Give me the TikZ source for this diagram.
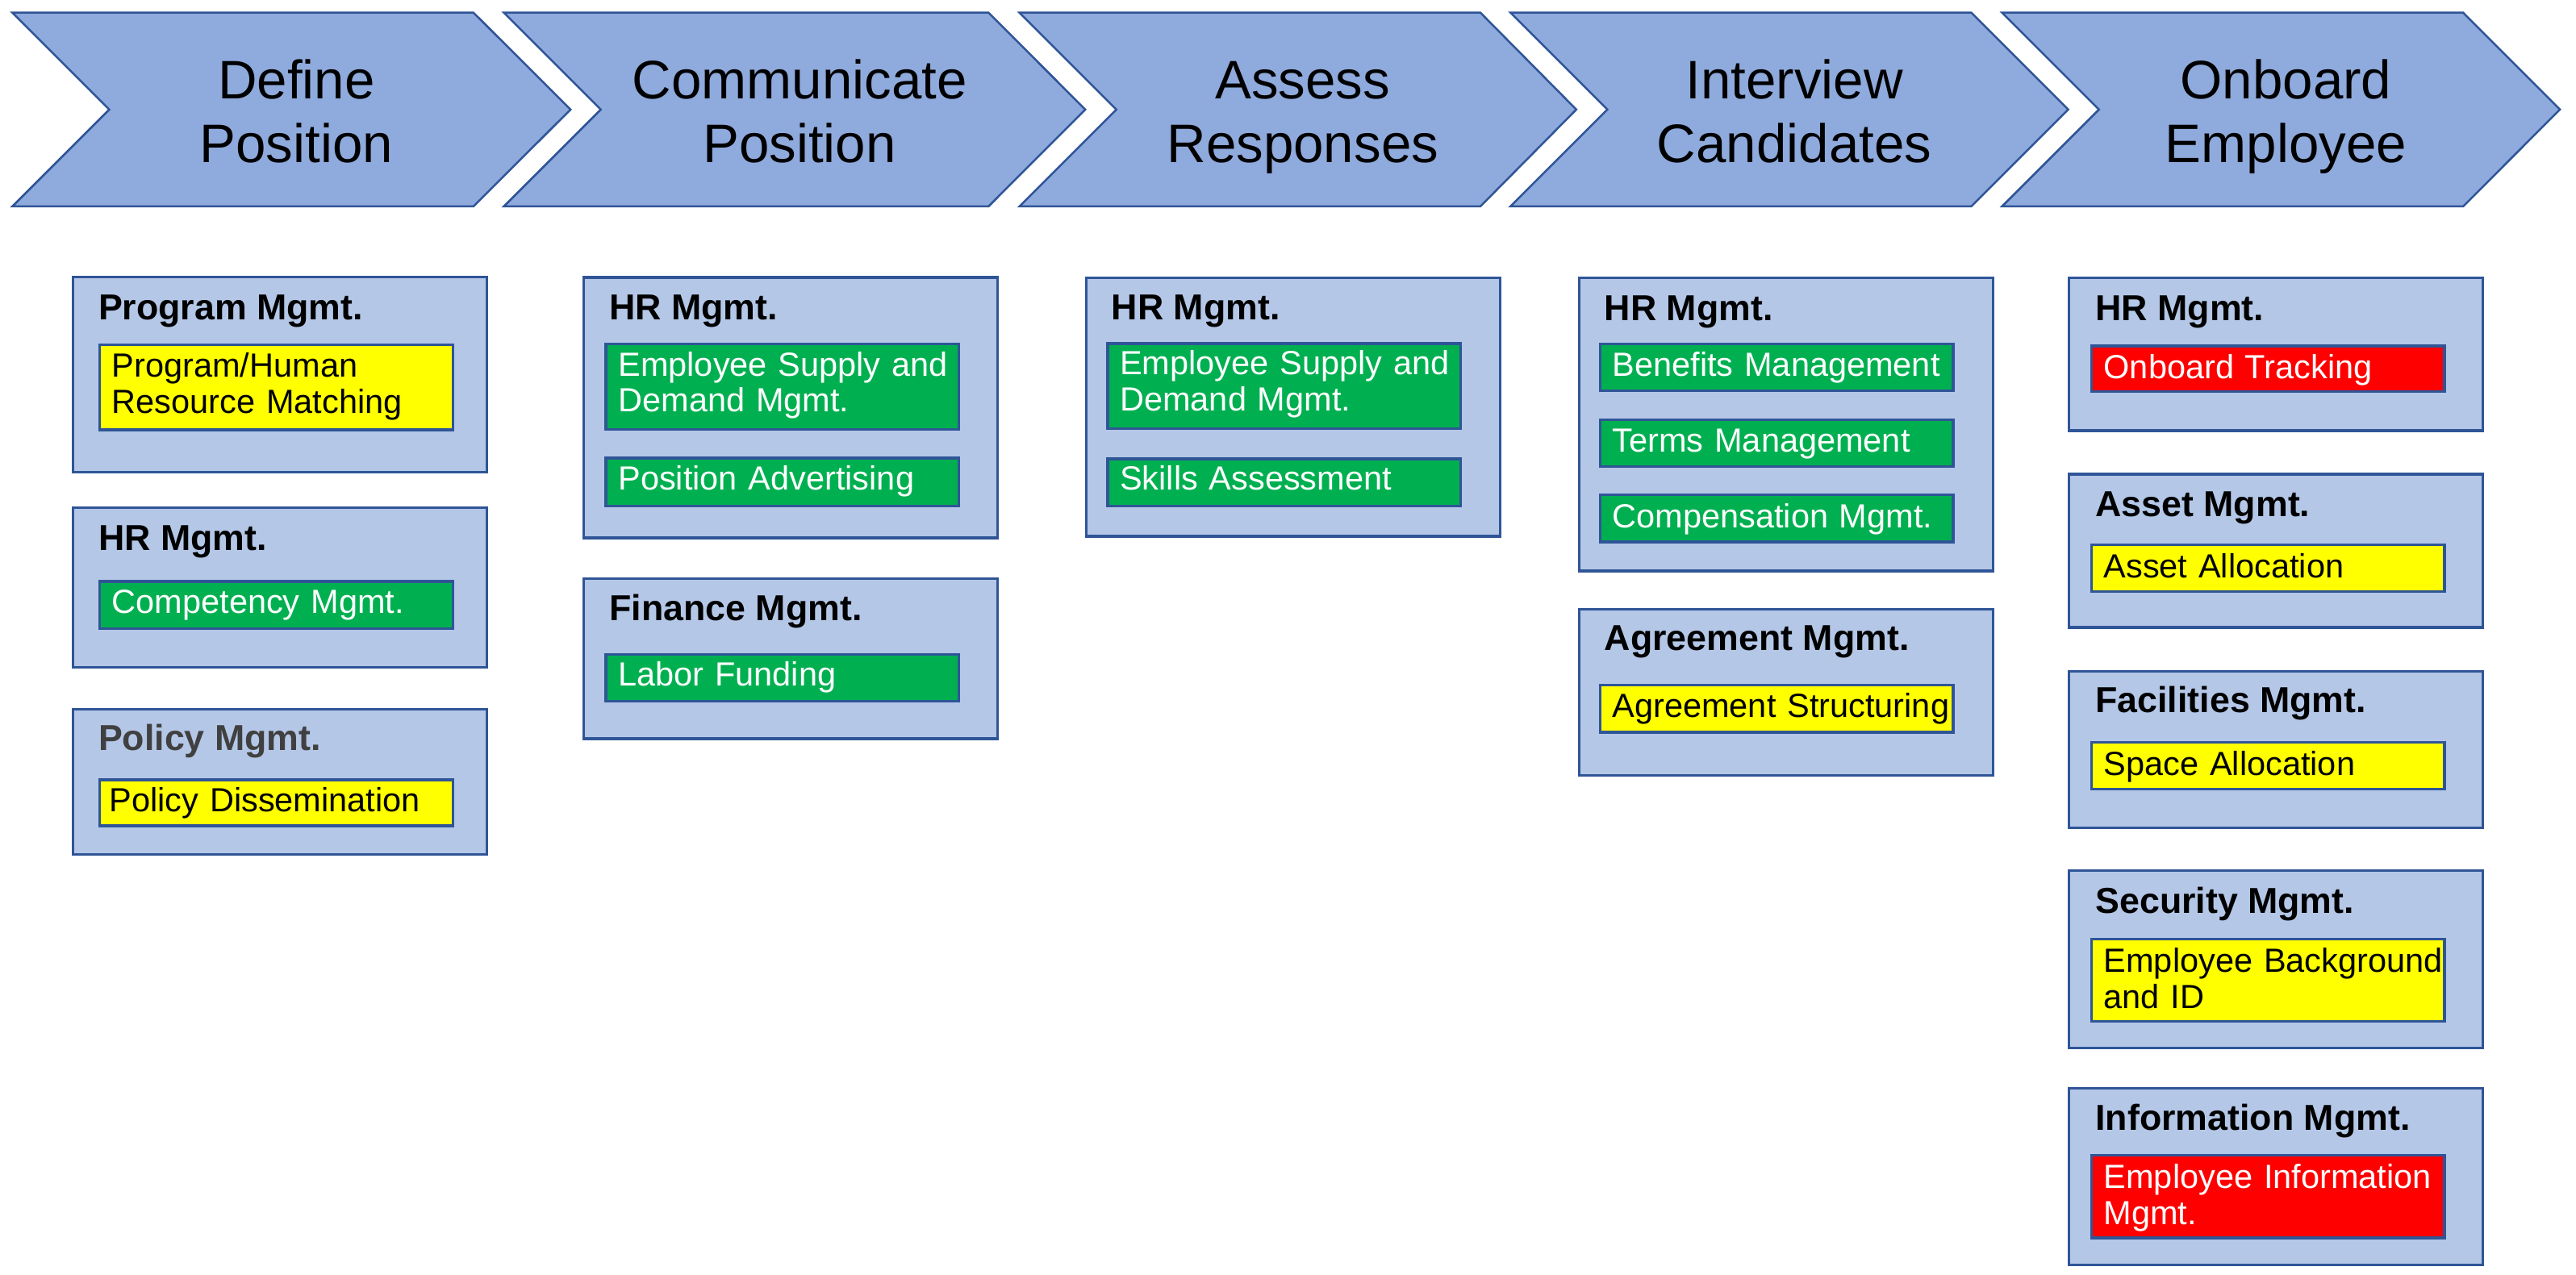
\documentclass[tikz,border=0pt]{standalone}
\usepackage{fontspec}
\setmainfont{Liberation Sans}
\definecolor{chevfill}{HTML}{8FAADC}
\definecolor{boxfill}{HTML}{B4C7E7}
\definecolor{bordercol}{HTML}{2F5597}
\definecolor{bgreen}{HTML}{00B050}
\definecolor{byellow}{HTML}{FFFF00}
\definecolor{bred}{HTML}{FF0000}
\definecolor{hgray}{HTML}{404040}
\begin{document}
\begin{tikzpicture}[x=0.02cm,y=-0.02cm,
  chev/.style={fill=chevfill,draw=bordercol,line width=0.7pt,line join=miter},
  chevtxt/.style={font=\fontsize{18.8}{22.3}\selectfont,text width=5cm,align=center,anchor=base,inner sep=0pt},
  obox/.style={rectangle,fill=boxfill,draw=bordercol,line width=0.9pt,anchor=north west,inner sep=0pt,minimum width=5.04cm},
  ibox/.style={rectangle,draw=bordercol,line width=0.9pt,anchor=north west,inner sep=0pt,minimum width=4.3cm},
  gbox/.style={ibox,fill=bgreen},
  ybox/.style={ibox,fill=byellow},
  rbox/.style={ibox,fill=bred},
  hdr/.style={font=\bfseries\fontsize{12.5}{15}\selectfont,anchor=base west,inner sep=0pt},
  itxt/.style={font=\fontsize{11.6}{12.4}\selectfont,anchor=base west,inner sep=0pt,text width=4.3cm,align=left},
  wtxt/.style={itxt,text=white},
  ktxt/.style={itxt,text=black}]
\useasboundingbox (0,0) rectangle (1568,776);

% chevrons
\draw[chev] (7.5,7.7) -- (288.2,7.7) -- (347.3,66.7) -- (288.2,125.7) -- (7.5,125.7) -- (66.5,66.7) -- cycle;
\draw[chev] (306.7,7.7) -- (601.7,7.7) -- (660.6,66.7) -- (601.7,125.7) -- (306.7,125.7) -- (365.7,66.7) -- cycle;
\draw[chev] (620.5,7.7) -- (901.1,7.7) -- (959.5,66.7) -- (901.1,125.7) -- (620.5,125.7) -- (679.5,66.7) -- cycle;
\draw[chev] (919.4,7.7) -- (1199.9,7.7) -- (1258.9,66.7) -- (1199.9,125.7) -- (919.4,125.7) -- (978.4,66.7) -- cycle;
\draw[chev] (1218.6,7.7) -- (1499.3,7.7) -- (1558.2,66.7) -- (1499.3,125.7) -- (1218.6,125.7) -- (1277.6,66.7) -- cycle;
\node[chevtxt] (s1) at (180.4,60.0) {Define\\Position};
\node[chevtxt] (s2) at (486.7,60.0) {Communicate\\Position};
\node[chevtxt] (s3) at (793.0,60.0) {Assess\\Responses};
\node[chevtxt] (s4) at (1092.2,60.0) {Interview\\Candidates};
\node[chevtxt] (s5) at (1391.4,60.0) {Onboard\\Employee};

% column 1
\node[obox,minimum height=2.378cm] (c1b1) at (43.6,167.9) {};
\node[hdr] (c1h1) at ([shift={(16,26.8)}]c1b1.north west) {Program Mgmt.};
\node[ybox,minimum height=1.034cm] (c1i1) at (59.8,209.3) {};
\node[ktxt] (c1t1) at ([shift={(8,20.4)}]c1i1.north west) {Program/Human\\Resource Matching};

\node[obox,minimum height=1.942cm] (c1b2) at (43.6,308.4) {};
\node[hdr] (c1h2) at ([shift={(16,26.8)}]c1b2.north west) {HR Mgmt.};
\node[gbox,minimum height=0.574cm] (c1i2) at (59.8,353.3) {};
\node[wtxt] (c1t2) at ([shift={(8,20.4)}]c1i2.north west) {Competency Mgmt.};

\node[obox,minimum height=1.77cm] (c1b3) at (43.6,431.0) {};
\node[hdr,text=hgray] (c1h3) at ([shift={(16,26.0)}]c1b3.north west) {Policy Mgmt.};
\node[ybox,minimum height=0.56cm] (c1i3) at (59.8,474.1) {};
\node[ktxt] (c1t3) at ([shift={(6.5,20.3)}]c1i3.north west) {Policy Dissemination};

% column 2
\node[obox,minimum height=3.174cm] (c2b1) at (354.6,168.1) {};
\node[hdr] (c2h1) at ([shift={(16,26.5)}]c2b1.north west) {HR Mgmt.};
\node[gbox,minimum height=1.042cm] (c2i1) at (368.0,208.6) {};
\node[wtxt] (c2t1) at ([shift={(8,20.4)}]c2i1.north west) {Employee Supply and\\Demand Mgmt.};
\node[gbox,minimum height=0.586cm] (c2i2) at (368.0,278.1) {};
\node[wtxt] (c2t2) at ([shift={(8,20.4)}]c2i2.north west) {Position Advertising};

\node[obox,minimum height=1.946cm] (c2b2) at (354.6,351.7) {};
\node[hdr] (c2h2) at ([shift={(16,26.3)}]c2b2.north west) {Finance Mgmt.};
\node[gbox,minimum height=0.574cm] (c2i3) at (368.0,397.6) {};
\node[wtxt] (c2t3) at ([shift={(8,20.3)}]c2i3.north west) {Labor Funding};

% column 3
\node[obox,minimum height=3.15cm] (c3b1) at (660.3,168.3) {};
\node[hdr] (c3h1) at ([shift={(16,26.3)}]c3b1.north west) {HR Mgmt.};
\node[gbox,minimum height=1.038cm] (c3i1) at (673.4,208.4) {};
\node[wtxt] (c3t1) at ([shift={(8,19.8)}]c3i1.north west) {Employee Supply and\\Demand Mgmt.};
\node[gbox,minimum height=0.574cm] (c3i2) at (673.4,278.6) {};
\node[wtxt] (c3t2) at ([shift={(8,19.6)}]c3i2.north west) {Skills Assessment};

% column 4
\node[obox,minimum height=3.574cm] (c4b1) at (960.3,168.2) {};
\node[hdr] (c4h1) at ([shift={(16,26.8)}]c4b1.north west) {HR Mgmt.};
\node[gbox,minimum height=0.566cm] (c4i1) at (973.1,208.7) {};
\node[wtxt] (c4t1) at ([shift={(8,20.3)}]c4i1.north west) {Benefits Management};
\node[gbox,minimum height=0.57cm] (c4i2) at (973.1,254.8) {};
\node[wtxt] (c4t2) at ([shift={(8,20.4)}]c4i2.north west) {Terms Management};
\node[gbox,minimum height=0.574cm] (c4i3) at (973.1,300.5) {};
\node[wtxt] (c4t3) at ([shift={(8,20.8)}]c4i3.north west) {Compensation Mgmt.};

\node[obox,minimum height=2.024cm] (c4b2) at (960.3,370.1) {};
\node[hdr] (c4h2) at ([shift={(16,26.0)}]c4b2.north west) {Agreement Mgmt.};
\node[ybox,minimum height=0.572cm] (c4i4) at (973.1,416.5) {};
\node[ktxt] (c4t4) at ([shift={(8,20.1)}]c4i4.north west) {Agreement Structuring};

% column 5
\node[obox,minimum height=1.864cm] (c5b1) at (1258.7,168.3) {};
\node[hdr] (c5h1) at ([shift={(16.5,27.0)}]c5b1.north west) {HR Mgmt.};
\node[rbox,minimum height=0.556cm] (c5i1) at (1272.2,209.9) {};
\node[wtxt] (c5t1) at ([shift={(8,20.5)}]c5i1.north west) {Onboard Tracking};

\node[obox,minimum height=1.866cm] (c5b2) at (1258.7,288.0) {};
\node[hdr] (c5h2) at ([shift={(16.5,26.7)}]c5b2.north west) {Asset Mgmt.};
\node[ybox,minimum height=0.572cm] (c5i2) at (1272.2,330.9) {};
\node[ktxt] (c5t2) at ([shift={(8,21.0)}]c5i2.north west) {Asset Allocation};

\node[obox,minimum height=1.912cm] (c5b3) at (1258.7,407.9) {};
\node[hdr] (c5h3) at ([shift={(16.5,26.2)}]c5b3.north west) {Facilities Mgmt.};
\node[ybox,minimum height=0.572cm] (c5i3) at (1272.2,451.1) {};
\node[ktxt] (c5t3) at ([shift={(8,21.0)}]c5i3.north west) {Space Allocation};

\node[obox,minimum height=2.158cm] (c5b4) at (1258.7,529.3) {};
\node[hdr] (c5h4) at ([shift={(16.5,26.6)}]c5b4.north west) {Security Mgmt.};
\node[ybox,minimum height=1.008cm] (c5i4) at (1272.2,570.9) {};
\node[ktxt] (c5t4) at ([shift={(8,21.2)}]c5i4.north west) {Employee Background\\and ID};

\node[obox,minimum height=2.15cm] (c5b5) at (1258.7,661.8) {};
\node[hdr] (c5h5) at ([shift={(16.5,26.2)}]c5b5.north west) {Information Mgmt.};
\node[rbox,minimum height=1.006cm] (c5i5) at (1272.2,702.7) {};
\node[wtxt] (c5t5) at ([shift={(8,21.0)}]c5i5.north west) {Employee Information\\Mgmt.};
\end{tikzpicture}
\end{document}
